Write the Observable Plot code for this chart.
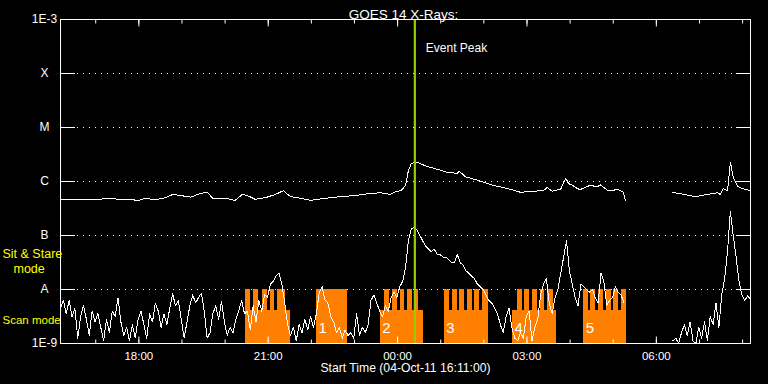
<!DOCTYPE html>
<html><head><meta charset="utf-8">
<script src="https://cdn.jsdelivr.net/npm/d3@7"></script>
<script src="https://cdn.jsdelivr.net/npm/@observablehq/plot@0.6"></script>
<style>html,body{margin:0;padding:0;background:#000;}#chart{width:768px;height:384px;}</style>
</head><body><div id="chart"></div>
<script>
// ---- data ----
const startTime = "2011-10-04T16:11:00Z";
const endTime = "2011-10-05T08:11:00Z";
const titleText = "GOES 14 X-Rays:";
const xAxisTitle = "Start Time (04-Oct-11 16:11:00)";
const eventPeakTime = "00:24";
const eventPeakLabel = "Event Peak";
const yTickValues = [1e-9, 1e-8, 1e-7, 1e-6, 1e-5, 1e-4, 1e-3];
const yTickLabels = ["1E-9", "A", "B", "C", "M", "X", "1E-3"];
const classLevels = [1e-8, 1e-7, 1e-6, 1e-5, 1e-4];
const xTickLabels = ["18:00", "21:00", "00:00", "03:00", "06:00"];

// long channel (1-8 A), minutes after start, log10 W/m^2
const longMinutes = [0,51,63,83,100,107,118,132,146,156,167,181,195,204,212,230,243,253,260,271,285,299,310,320,334,348,369,390,410,431,445,451,459,466,474,480,484,488,492,497,504,515,526,538,552,555,563,584,602,622,640,658,672,677,684,696,703,707,712,719,723,737,747,751,762,776,783,786,800,851,872,883,900,914,918,922,928,932,936,942,949,960];
const longLogFlux = [-6.34,-6.34,-6.31,-6.33,-6.33,-6.36,-6.31,-6.34,-6.30,-6.24,-6.26,-6.29,-6.22,-6.20,-6.31,-6.31,-6.35,-6.24,-6.26,-6.33,-6.30,-6.24,-6.17,-6.28,-6.31,-6.35,-6.31,-6.28,-6.26,-6.22,-6.21,-6.22,-6.24,-6.19,-6.17,-6.07,-5.80,-5.67,-5.65,-5.65,-5.69,-5.74,-5.78,-5.83,-5.85,-5.81,-5.91,-5.99,-6.07,-6.13,-6.20,-6.18,-6.17,-6.11,-6.18,-6.14,-5.94,-6.04,-6.07,-6.13,-6.15,-6.07,-6.10,-6.06,-6.17,-6.15,-6.20,-6.35,null,-6.20,-6.25,-6.28,-6.24,-6.21,-6.24,-6.13,-6.17,-5.64,-5.92,-6.09,-6.13,-6.17];

// short channel (0.5-4 A), one sample every 4 minutes from start, log10 W/m^2
const shortCadenceMinutes = 4;
const shortLogFlux = [
-8.35,-8.20,-8.45,-8.20,-8.50,-8.35,-8.90,-8.50,-8.30,-8.55,
-8.85,-8.40,-8.60,-8.45,-8.70,-8.95,-8.55,-8.80,-8.40,-8.50,
-8.15,-8.60,-8.85,-8.70,-8.95,-8.65,-8.90,-8.55,-8.40,-8.65,
-8.90,-8.45,-8.60,-8.25,-8.40,-8.70,-8.45,-8.65,-8.35,-8.08,
-8.30,-8.20,-8.55,-8.90,-8.60,-8.30,-8.10,-8.25,-8.15,-8.07,
-8.40,-8.90,-8.80,-8.45,-8.30,-8.55,-8.22,-8.60,-8.85,-8.70,
-8.80,-8.55,-8.40,-8.20,-8.45,-8.40,-8.75,-8.30,-8.60,-8.20,
-8.40,-8.10,-8.15,-7.90,-7.85,-7.75,-7.70,-7.90,-8.25,-8.65,
-8.85,-8.70,-8.95,-8.65,-8.80,-8.55,-8.75,-8.50,-8.70,-8.45,
-8.05,-7.95,-8.20,-8.25,-8.50,-8.60,-8.80,-8.70,-8.90,-8.75,
-8.85,-8.80,-8.90,-8.45,-8.85,-8.70,-8.80,-8.65,-8.20,-8.10,
-8.25,-8.40,-8.50,-8.30,-8.40,-8.15,-8.05,-8.15,-7.95,-7.85,
-7.60,-7.10,-6.88,-6.85,-6.90,-7.00,-7.10,-7.20,-7.25,-7.30,
-7.25,-7.35,-7.35,-7.40,-7.40,-7.45,-7.50,-7.50,-7.35,-7.50,
-7.55,-7.65,-7.70,-7.75,-7.80,-7.90,-7.95,-8.00,-8.10,-8.20,
-8.25,-8.35,-8.45,-8.65,-8.80,-8.50,-8.35,-8.70,-8.90,-8.95,
-8.80,-8.90,-8.50,-8.40,-8.95,-8.70,-8.55,-8.10,-7.90,-7.80,
-8.25,-8.45,-8.15,-8.00,-7.70,-7.40,-7.10,-7.65,-7.90,-8.15,
-8.30,-7.90,-7.95,-8.00,-8.05,-8.00,-8.15,-8.25,-7.70,-7.85,
-8.30,-8.20,-8.15,-7.95,-8.05,-8.10,-8.25,
null,null,null,null,null,null,null,null,null,null,null,null,null,null,null,null,
-8.95,-8.90,-9.00,-8.80,-8.65,-8.85,-8.60,
-8.95,-9.00,-8.70,-8.90,-8.60,-8.95,-8.50,-8.65,-8.25,-8.70,
-8.10,-7.80,-7.30,-6.55,-7.00,-7.40,-7.85,-8.10,-8.20,-8.12,-8.18
];

// instrument observing blocks (UT clock times)
const scanStart = ["20:28", "22:07", "23:36", "01:05", "02:40", "04:19"];
const scanEnd   = ["21:31", "22:50", "00:36", "02:06", "03:41", "05:18"];
const blockLabels = ["", "1", "2", "3", "4", "5"];
const stareStart = ["20:28","20:39","20:52","21:03","21:13","22:07","23:42","23:53","00:04","00:14","00:25","01:05","01:16","01:26","01:37","01:47","01:58","02:47","02:57","03:08","03:19","03:29","04:19","04:29","04:40","04:51","05:01","05:12"];
const stareEnd   = ["20:35","20:46","20:59","21:09","21:24","22:50","23:49","00:00","00:10","00:21","00:29","01:12","01:23","01:33","01:44","01:54","02:06","02:54","03:03","03:15","03:24","03:37","04:26","04:36","04:47","04:58","05:08","05:18"];
const scanTopFlux = 4.1e-9;
const stareTopFlux = 1e-8;
const modeLabels = ["Sit & Stare", "mode", "Scan mode"];

// ---- build ----
const t0 = new Date(startTime);
const t1 = new Date(endTime);
function clock(s) {
  const [h, m] = s.split(":").map(Number);
  return new Date(Date.UTC(2011, 9, h >= 12 ? 4 : 5, h, m));
}
const longData = longMinutes.map((m, i) => ({
  t: new Date(+t0 + m * 60000),
  v: longLogFlux[i] == null ? null : Math.pow(10, longLogFlux[i])
}));
const shortData = shortLogFlux.map((L, i) => ({
  t: new Date(+t0 + i * shortCadenceMinutes * 60000),
  v: L == null ? null : Math.pow(10, L)
}));
const scanData = scanStart.map((s, i) => ({start: clock(s), end: clock(scanEnd[i]), label: blockLabels[i]}));
const stareData = stareStart.map((s, i) => ({start: clock(s), end: clock(stareEnd[i])}));
const xTickDates = xTickLabels.map(clock);
const peak = [{t: clock(eventPeakTime), label: eventPeakLabel}];
const orange = "#ff8000";
const yellow = "#ffff00";
const green = "#99cc00";

const chart = Plot.plot({
  width: 768,
  height: 384,
  marginLeft: 60,
  marginRight: 18,
  marginTop: 19,
  marginBottom: 41,
  style: {background: "black", color: "white", fontFamily: "Liberation Sans, Arial, sans-serif", fontSize: "12px"},
  x: {type: "utc", domain: [t0, t1]},
  y: {type: "log", domain: [1e-9, 1e-3]},
  marks: [
    Plot.ruleY(classLevels, {stroke: "white", strokeWidth: 1, strokeDasharray: "1 5", insetLeft: 17, insetRight: 15, shapeRendering: "crispEdges"}),
    Plot.rect(scanData, {x1: "start", x2: "end", y1: 1e-9, y2: scanTopFlux, fill: orange, shapeRendering: "crispEdges"}),
    Plot.rect(stareData, {x1: "start", x2: "end", y1: 1e-9, y2: stareTopFlux, fill: orange, shapeRendering: "crispEdges"}),
    Plot.text(scanData, {x: "start", text: "label", frameAnchor: "bottom", dy: -11, dx: 2, textAnchor: "start", fill: "white", fontSize: 15}),
    Plot.line(longData, {x: "t", y: "v", stroke: "white", strokeWidth: 1, clip: true, shapeRendering: "crispEdges"}),
    Plot.line(shortData, {x: "t", y: "v", stroke: "white", strokeWidth: 1, clip: true, shapeRendering: "crispEdges"}),
    Plot.ruleX(peak, {x: "t", stroke: green, strokeWidth: 2.2}),
    Plot.text(peak, {x: "t", text: "label", frameAnchor: "top", dy: 24, dx: 11, textAnchor: "start", fill: "white", fontSize: 12}),
    Plot.frame({stroke: "white", strokeWidth: 1, shapeRendering: "crispEdges"}),
    // y axis labels and inward ticks
    Plot.axisY({anchor: "left", ticks: yTickValues, tickSize: 0, tickPadding: 16, textAnchor: "middle",
      tickFormat: d => yTickLabels[yTickValues.indexOf(d)], fontSize: 12, label: null}),
    Plot.axisY({anchor: "left", ticks: yTickValues, tickSize: -15, fill: "none", label: null}),
    Plot.axisY({anchor: "right", ticks: yTickValues, tickSize: -15, fill: "none", label: null}),
    // x axis: hourly minor ticks, 3-hour major ticks, labels
    Plot.axisX({anchor: "bottom", ticks: d3.utcHour, tickSize: -3.5, fill: "none", label: null}),
    Plot.axisX({anchor: "top", ticks: d3.utcHour, tickSize: -3.5, fill: "none", label: null}),
    Plot.axisX({anchor: "bottom", ticks: xTickDates, tickSize: -6.5, fill: "none", label: null}),
    Plot.axisX({anchor: "top", ticks: xTickDates, tickSize: -6.5, fill: "none", label: null}),
    Plot.axisX({anchor: "bottom", ticks: xTickDates, tickSize: 0, tickPadding: 8, tickFormat: d => xTickLabels[xTickDates.findIndex(x => +x === +d)], fontSize: 11.5, label: null}),
    // titles
    Plot.text([titleText], {text: d => d, frameAnchor: "top", dy: -10, dx: -2, fill: "white", fontSize: 13.5}),
    Plot.text([xAxisTitle], {text: d => d, frameAnchor: "bottom", dy: 28, fill: "white", fontSize: 12.2}),
    // mode labels in left margin
    Plot.text([modeLabels[0]], {text: d => d, frameAnchor: "bottom-left", dx: -58, dy: -86, textAnchor: "start", fill: yellow, fontSize: 12.5}),
    Plot.text([modeLabels[1]], {text: d => d, frameAnchor: "bottom-left", dx: -47, dy: -71, textAnchor: "start", fill: yellow, fontSize: 12.5}),
    Plot.text([modeLabels[2]], {text: d => d, frameAnchor: "bottom-left", dx: -58, dy: -20, textAnchor: "start", fill: yellow, fontSize: 11.5})
  ]
});
document.getElementById("chart").appendChild(chart);
</script>
</body></html>
